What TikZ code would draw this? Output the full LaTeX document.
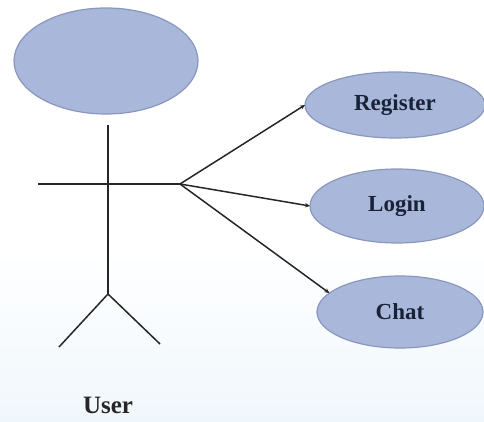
\documentclass[tikz,border=0pt]{standalone}
\usepackage{fontspec}
\setmainfont{Liberation Serif}
\usetikzlibrary{shapes.geometric,arrows.meta}
\definecolor{ucfill}{HTML}{A9B8DA}
\definecolor{ucdraw}{HTML}{8A97BC}
\definecolor{uctext}{HTML}{1A2238}
\begin{document}
\begin{tikzpicture}[x=1pt,y=-1pt,
  usecase/.style={ellipse,draw=ucdraw,fill=ucfill,line width=1.2pt,inner sep=0pt,outer sep=0pt,
    font=\bfseries\fontsize{23}{26}\selectfont,text=uctext},
  stick/.style={line width=1.5pt,draw=black!85},
  link/.style={line width=1.5pt,draw=black!85,-{Stealth[length=5pt,width=4.5pt]}}]
\shade[top color=white,bottom color={rgb,255:red,240;green,247;blue,252}] (0,250) rectangle (484,422);
\useasboundingbox (0,0) rectangle (484,422);
% actor
\node[usecase,minimum width=184pt,minimum height=106pt] (head) at (106,61) {};
\coordinate (neck) at (108,125);
\coordinate (hip) at (108,294);
\coordinate (armL) at (38,184);
\coordinate (hand) at (180,184);
\coordinate (footL) at (59,347);
\coordinate (footR) at (160,344);
\draw[stick] (neck) -- (hip);
\draw[stick] (armL) -- (hand);
\draw[stick] (footL) -- (hip) -- (footR);
\node[font=\bfseries\fontsize{25}{28}\selectfont,text=black!85] (user) at (108,405) {User};
% use cases
\node[usecase,minimum width=180pt,minimum height=66pt] (reg) at (395,105) {Register};
\node[usecase,minimum width=174pt,minimum height=74pt] (login) at (397,206) {Login};
\node[usecase,minimum width=166pt,minimum height=72pt] (chat) at (400,312) {Chat};
\draw[link] (hand) -- (reg.west);
\draw[link] (hand) -- (login.west);
\draw[link] (hand) -- (chat.165);
\end{tikzpicture}
\end{document}
